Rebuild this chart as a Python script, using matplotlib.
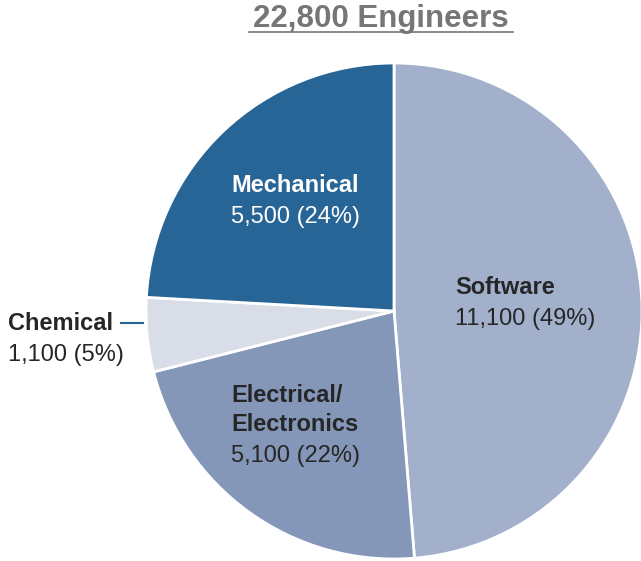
import matplotlib
matplotlib.use("Agg")
import matplotlib.pyplot as plt

plt.rcParams['font.family'] = ['Liberation Sans', 'DejaVu Sans']

categories = ["Software", "Electrical/\nElectronics", "Chemical", "Mechanical"]
values = [11100, 5100, 1100, 5500]
pct_labels = ["49%", "22%", "5%", "24%"]
colors = ["#a2b0cb", "#8497b9", "#d8dde8", "#286597"]
title = "22,800 Engineers"

W, H = 641, 561
fig = plt.figure(figsize=(W / 100, H / 100), dpi=100)
ax = fig.add_axes([0, 0, 1, 1])
ax.set_xlim(0, W)
ax.set_ylim(0, H)
ax.set_aspect('equal')
ax.axis('off')

cx, cy, r = 394, H - 311, 248
wedges, _ = ax.pie(values, colors=colors, startangle=90, counterclock=False,
                   center=(cx, cy), radius=r,
                   wedgeprops=dict(edgecolor='white', linewidth=2))
ax.set_xlim(0, W)
ax.set_ylim(0, H)

fs = 17
dark = "#262626"
def txt(x, y, s, color=dark, bold=False, ha='left'):
    ax.text(x, H - y, s, ha=ha, va='baseline', fontsize=fs,
            fontweight='bold' if bold else 'normal', color=color)

# Software
txt(455, 294, categories[0], bold=True)
txt(455, 325, f"{values[0]:,} ({pct_labels[0]})")
# Electrical
name_lines = categories[1].split("\n")
txt(231, 402, name_lines[0], bold=True)
txt(231, 431, name_lines[1], bold=True)
txt(231, 462, f"{values[1]:,} ({pct_labels[1]})")
# Mechanical
txt(231, 192, categories[3], color="white", bold=True)
txt(231, 223, f"{values[3]:,} ({pct_labels[3]})", color="white")
# Chemical
txt(8, 330, categories[2], bold=True)
txt(8, 361, f"{values[2]:,} ({pct_labels[2]})")
ax.plot([121, 143], [H - 323, H - 323], color="#286597", lw=1.5)

# Title
ax.text(381, H - 27, title, ha='center', va='baseline', fontsize=22.5,
        fontweight='bold', color="#767676")
ax.plot([249, 513], [H - 32, H - 32], color="#767676", lw=1.2)

fig.savefig("out.png", dpi=100)
